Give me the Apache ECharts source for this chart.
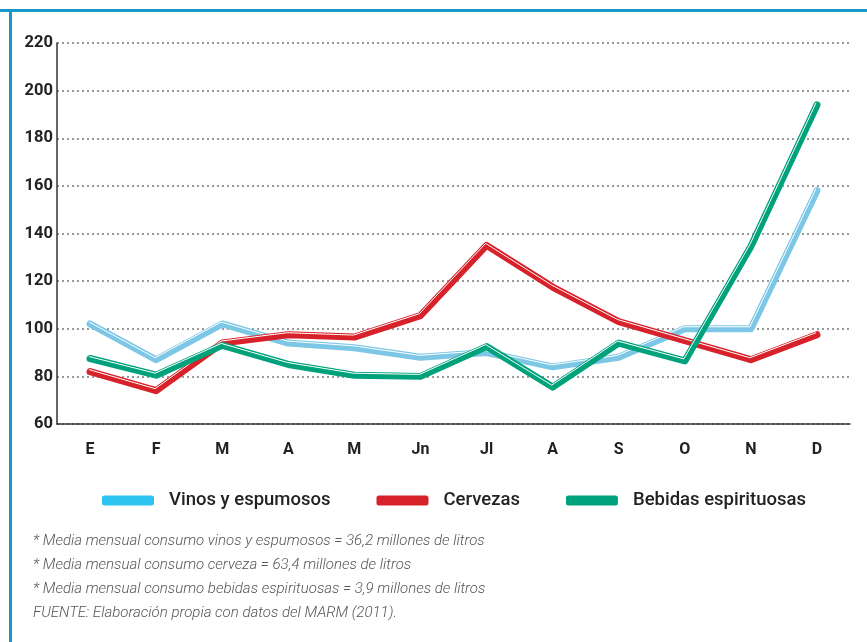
<!DOCTYPE html>
<html>
<head>
<meta charset="utf-8">
<script src="https://cdn.jsdelivr.net/npm/echarts@6/dist/echarts.min.js"></script>
<style>
  html, body { margin: 0; padding: 0; background: #fff; }
  #chart { width: 867px; height: 642px; }
</style>
</head>
<body>
<div id="chart"></div>
<script>
// meses
var months = ['E', 'F', 'M', 'A', 'M', 'Jn', 'Jl', 'A', 'S', 'O', 'N', 'D']
var vinos = [102, 87, 102, 94, 92, 88, 90, 84, 88, 100, 100, 158]
var cervezas = [82, 74, 94, 97.5, 96.5, 105.5, 135, 117.5, 103, 95, 87, 97.5]
var bebidas = [87.5, 80.5, 93, 85, 80.5, 80, 92.5, 75.5, 94, 86.5, 134.5, 194]
var yTicks = [60, 80, 100, 120, 140, 160, 180, 200, 220]
var notes = [
  '* Media mensual consumo vinos y espumosos = 36,2 millones de litros',
  '* Media mensual consumo cerveza = 63,4 millones de litros',
  '* Media mensual consumo bebidas espirituosas = 3,9 millones de litros',
  'FUENTE: Elaboración propia con datos del MARM (2011).'
]

var names = ['Vinos y espumosos', 'Cervezas', 'Bebidas espirituosas']
var colors = ['#7cc7e6', '#d8222b', '#00a27b']
var legendColors = ['#2cc3ef', '#d8222b', '#00a27b']
var values = [vinos, cervezas, bebidas]

var chart = echarts.init(document.getElementById('chart'))

var series = []
values.forEach(function(v, i) {
  series.push({
    name: names[i],
    type: 'line',
    data: v,
    symbol: 'none',
    color: legendColors[i],
    lineStyle: { color: colors[i], width: 7, cap: 'round', join: 'round' },
    z: 2 + i * 2
  })
  // fina linea blanca (efecto doble)
  series.push({
    name: names[i] + '_hl',
    type: 'line',
    data: v,
    symbol: 'none',
    silent: true,
    lineStyle: {
      color: colors[i],
      width: 1,
      shadowColor: '#ffffff',
      shadowBlur: 0,
      shadowOffsetX: -1,
      shadowOffsetY: -2
    },
    z: 3 + i * 2
  })
})

var graphics = [
  { type: 'rect', shape: { x: 0, y: 9, width: 867, height: 3 }, style: { fill: '#1597c8' } },
  { type: 'rect', shape: { x: 9, y: 9, width: 3, height: 633 }, style: { fill: '#1597c8' } }
]
notes.forEach(function(t, i) {
  graphics.push({
    type: 'text',
    left: 33,
    top: 534 + i * 24,
    style: {
      text: t,
      fill: '#555',
      font: 'italic 300 15px Roboto'
    }
  })
})

chart.setOption({
  animation: false,
  backgroundColor: '#fff',
  grid: { left: 57, right: 17, top: 43, bottom: 218, containLabel: false },
  legend: {
    data: names,
    top: 486,
    left: 97,
    icon: 'roundRect',
    itemWidth: 52,
    itemHeight: 10,
    itemGap: 46,
    textStyle: { color: '#222', fontSize: 18.5, fontFamily: 'Roboto', fontWeight: 500, padding: [0, 0, 0, 10] }
  },
  xAxis: {
    type: 'category',
    data: months,
    boundaryGap: true,
    axisLine: { lineStyle: { color: '#333', width: 1.5 } },
    axisTick: { show: false },
    axisLabel: { color: '#222', fontSize: 16, fontWeight: 'bold', fontFamily: 'Roboto', margin: 18 }
  },
  yAxis: {
    type: 'value',
    min: yTicks[0],
    max: yTicks[yTicks.length - 1],
    interval: 20,
    axisLine: { show: true, lineStyle: { color: '#333', width: 1.5 } },
    axisTick: { show: false },
    axisLabel: { color: '#222', fontSize: 16.5, fontWeight: 'bold', fontFamily: 'Roboto', margin: 4 },
    splitLine: { show: true, lineStyle: { color: '#999', width: 2, type: [2, 3] } }
  },
  graphic: graphics,
  series: series
})
</script>
</body>
</html>
